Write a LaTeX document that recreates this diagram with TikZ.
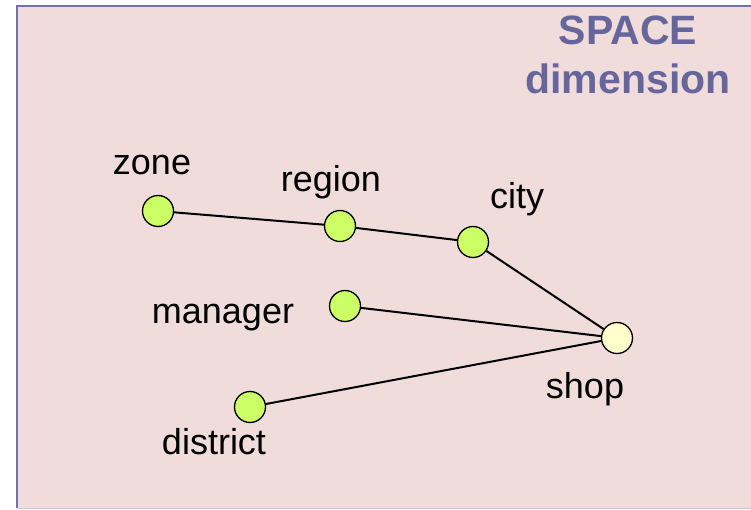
\documentclass[tikz,border=0pt]{standalone}
\usepackage{fontspec}
\setmainfont{Liberation Sans}
\usetikzlibrary{positioning}
\definecolor{Pink}{HTML}{F0DCDA}
\definecolor{Frame}{HTML}{7272A6}
\definecolor{Title}{HTML}{66669C}
\definecolor{Lime}{HTML}{CCFF66}
\definecolor{Cream}{HTML}{FFFFCC}
\begin{document}
\begin{tikzpicture}[x=1pt,y=-1pt,
    dot/.style={circle,draw=black,line width=1.3pt,minimum size=31pt,inner sep=0pt},
    lbl/.style={font=\fontsize{36}{40}\selectfont,text=black,inner sep=0pt},
    link/.style={line width=2pt,black}
  ]
    \useasboundingbox (0,0) rectangle (751,510);
    \fill[Pink] (17,6) rectangle (760,508);
    \draw[Frame,line width=2pt] (17,508) -- (17,6) -- (760,6);
    \draw[Frame!40,line width=1pt] (17,508) -- (760,508);
    \node[font=\bfseries\fontsize{41}{49}\selectfont,text=Title,align=center] (title) at (628,55) {SPACE\\dimension};
    % levels of the hierarchy
    \foreach \name/\x/\y/\lx/\ly in {
      zone/158/211/152/165,
      region/340/226/331/182,
      city/473/242/517/199,
      manager/345/306/223/318,
      district/250/407/214/442}{
      \node[dot,fill=Lime] (\name) at (\x,\y) {};
      \node[lbl] (\name-l) at (\lx,\ly) {\name};
    }
    \node[dot,fill=Cream] (shop) at (617,338) {};
    \node[lbl] (shop-l) at (585,389) {shop};
    \draw[link] (zone) -- (region) -- (city) -- (shop);
    \draw[link] (manager) -- (shop);
    \draw[link] (district) -- (shop);
  \end{tikzpicture}
\end{document}
